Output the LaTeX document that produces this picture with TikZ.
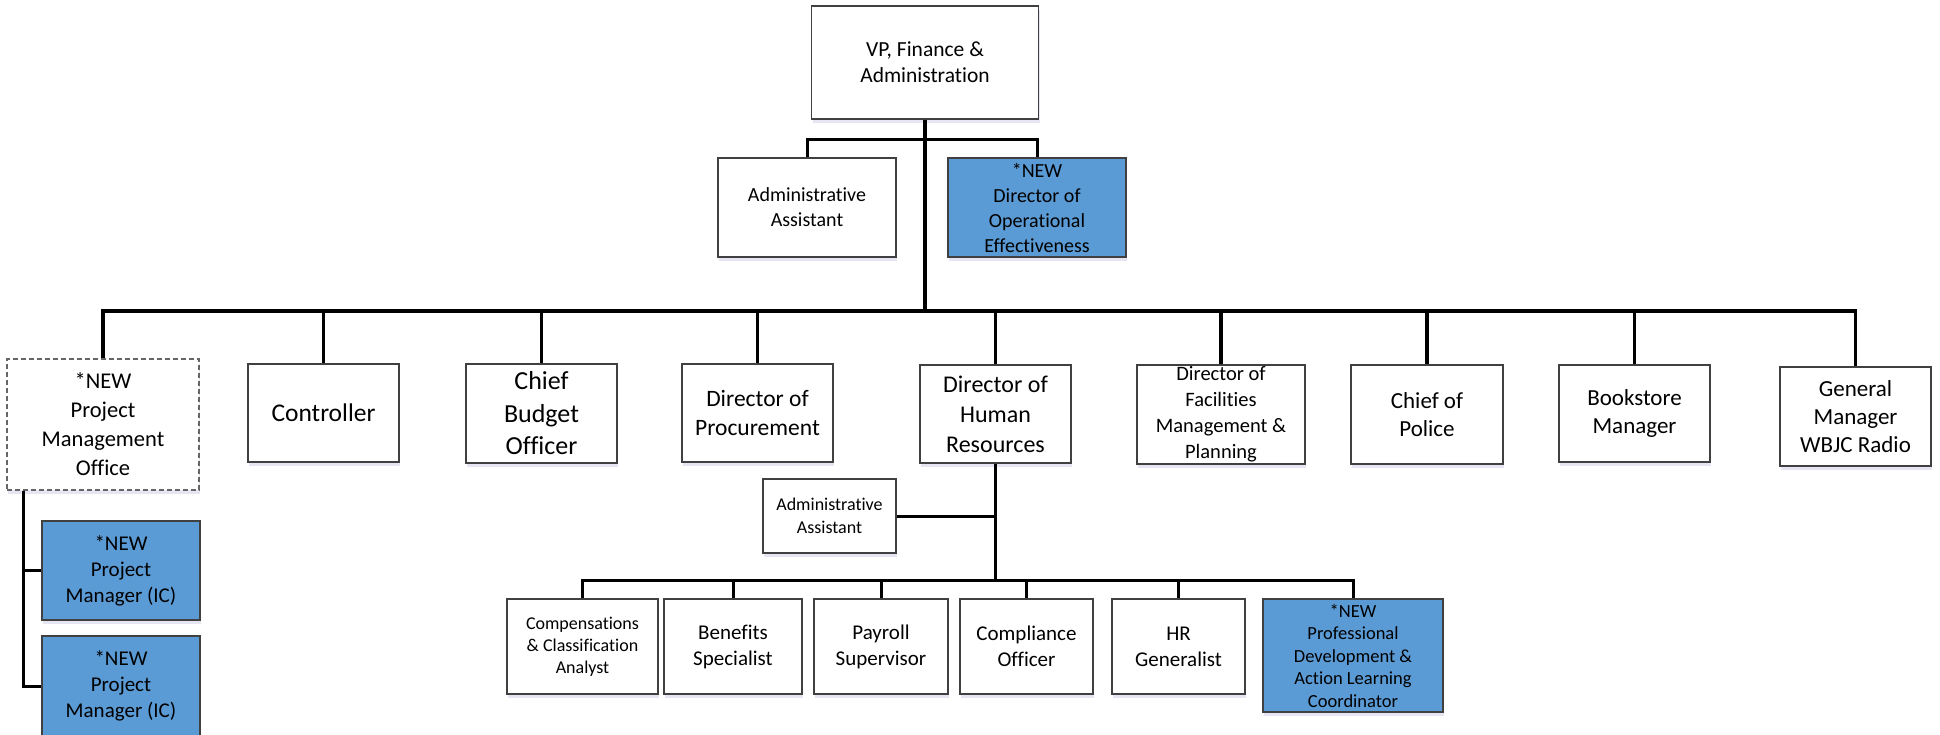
\documentclass[tikz,border=0pt]{standalone}
\usepackage{fontspec}
\setmainfont{Carlito}[Ligatures=CommonOff]
\usepackage{xcolor}
\usepackage{tikz}
\usetikzlibrary{positioning, shadows}

\definecolor{newblue}{HTML}{5B9BD5}

\begin{document}
\begin{tikzpicture}[x=1pt, y=-1pt,
  box/.style={draw=black!75, line width=1.3pt, fill=white, inner sep=0pt, align=center,
    drop shadow={shadow xshift=1pt, shadow yshift=-4pt, fill=blue!30!gray, opacity=0.15}},
  newbox/.style={box, fill=newblue},
  sz/.style 2 args={minimum width=#1pt, minimum height=#2pt},
  fs/.style 2 args={font=\fontsize{#1}{#2}\selectfont},
  conn/.style={line width=3pt, black}]

  \useasboundingbox (0,0) rectangle (1940,735);

  % Top of the chart
  \node[box, sz={227}{113}, fs={21.5}{26}] (vp) at (925,62.5) {VP, Finance \&\\Administration};
  \node[box, sz={178}{99}, fs={20}{25}] (adm) at (807,207.5) {Administrative\\Assistant};
  \node[newbox, sz={178}{99}, fs={20}{25}] (opeff) at (1037,207.5) {*NEW\\Director of\\Operational\\Effectiveness};

  % Direct reports
  \node[box, sz={192}{131}, fs={22.5}{29}, draw=black!60, dash pattern=on 5pt off 3pt] (pmo) at (103,424.5) {*NEW\\Project\\Management\\Office};
  \node[box, sz={151}{98}, fs={25.5}{32}] (ctrl) at (323.5,413) {Controller};
  \node[box, sz={151}{99}, fs={26}{32.5}] (cbo) at (541.5,413.5) {Chief\\Budget\\Officer};
  \node[box, sz={151}{98}, fs={23.5}{28.5}] (proc) at (757.5,413) {Director of\\Procurement};
  \node[box, sz={151}{98}, fs={24}{30}] (hr) at (995.5,414) {Director of\\Human\\Resources};
  \node[box, sz={168}{99}, fs={20.5}{26}] (fac) at (1221,414.5) {Director of\\Facilities\\Management \&\\Planning};
  \node[box, sz={152}{99}, fs={23}{28}] (police) at (1427,414.5) {Chief of\\Police};
  \node[box, sz={151}{97}, fs={23}{28}] (books) at (1634.5,413.5) {Bookstore\\Manager};
  \node[box, sz={151}{99}, fs={23}{28}] (gm) at (1855.5,416.5) {General\\Manager\\WBJC Radio};

  % Project managers
  \node[newbox, sz={158}{99}, fs={21}{26}] (pm1) at (121,570.5) {*NEW\\Project\\Manager (IC)};
  \node[newbox, sz={158}{100}, fs={21}{26}] (pm2) at (121,686) {*NEW\\Project\\Manager (IC)};

  % Human resources staff
  \node[box, sz={133}{74}, fs={18}{22.5}] (hradm) at (829.5,516) {Administrative\\Assistant};
  \node[box, sz={151}{95}, fs={18}{22}] (comp) at (582.5,646.5) {Compensations\\\& Classification\\Analyst};
  \node[box, sz={138}{95}, fs={21}{26}] (ben) at (733,646.5) {Benefits\\Specialist};
  \node[box, sz={134}{95}, fs={21}{26}] (pay) at (881,646.5) {Payroll\\Supervisor};
  \node[box, sz={133}{95}, fs={21}{26}] (compl) at (1026.5,646.5) {Compliance\\Officer};
  \node[box, sz={133}{95}, fs={21}{26}] (hrgen) at (1178.5,646.5) {HR\\Generalist};
  \node[newbox, sz={180}{113}, fs={18.5}{22.5}] (pd) at (1353,655.5) {*NEW\\Professional\\Development \&\\Action Learning\\Coordinator};

  % Connectors
  \coordinate (admbar) at (925,140);
  \coordinate (topbar) at (925,311);
  \coordinate (hrbar) at (995.5,580);
  \coordinate (pmoleg) at ([xshift=-80pt]pmo.south);

  \draw[conn, line width=3.5pt] (vp.south) -- (topbar);
  \draw[conn] (admbar) -| (adm.north);
  \draw[conn] (admbar) -| (opeff.north);
  \foreach \c in {pmo,ctrl,cbo,proc,hr,fac,police,books,gm}
    \draw[conn, line width=3.5pt] (topbar) -| (\c.north);

  \draw[conn] (pmoleg) |- (pm1.west);
  \draw[conn] (pmoleg) |- (pm2.west);

  \draw[conn] (hr.south) -- (hrbar);
  \draw[conn] (hradm.east) -- (hradm.east -| hr.south);
  \foreach \c in {comp,ben,pay,compl,hrgen,pd}
    \draw[conn] (hrbar) -| (\c.north);
\end{tikzpicture}
\end{document}
